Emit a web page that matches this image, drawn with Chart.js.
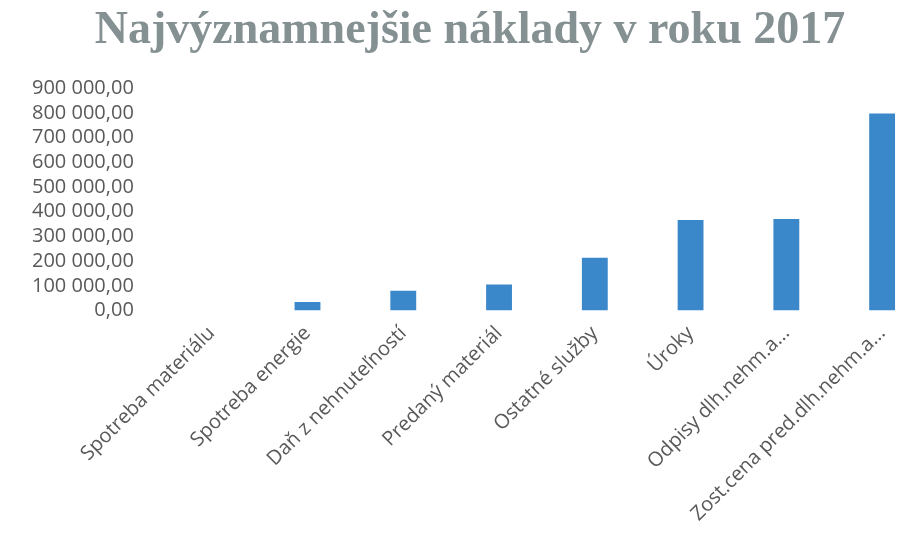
<!DOCTYPE html>
<html>
<head>
<meta charset="utf-8">
<script src="https://cdn.jsdelivr.net/npm/chart.js@4/dist/chart.umd.min.js"></script>
<style>
  body { margin: 0; background: #fff; overflow: hidden; }
</style>
</head>
<body>
<canvas id="chart" width="930" height="539"></canvas>
<script>
// categories and values
const categories = [
  "Spotreba materiálu",
  "Spotreba energie",
  "Daň z nehnuteľností",
  "Predaný materiál",
  "Ostatné služby",
  "Úroky",
  "Odpisy dlh.nehm.a...",
  "Zost.cena pred.dlh.nehm.a..."
];
const costs = [0, 35000, 80000, 105000, 214000, 367000, 371000, 798000];

const yMax = 900000;
const yStep = 100000;

// "900 000,00" style
function formatSk(v) {
  const s = Math.round(v).toString().replace(/\B(?=(\d{3})+(?!\d))/g, " ");
  return s + ",00";
}

const ctx = document.getElementById("chart").getContext("2d");
new Chart(ctx, {
  type: "bar",
  data: {
    labels: categories,
    datasets: [
      {
        label: "Náklady",
        data: costs,
        backgroundColor: "#3a88c9",
        categoryPercentage: 1,
        barPercentage: 0.27,
      },
    ],
  },
  options: {
    responsive: false,
    animation: false,
    layout: { padding: { left: 10, right: 0, top: 4, bottom: 10 } },
    plugins: {
      legend: { display: false },
      tooltip: { enabled: false },
      title: {
        display: true,
        text: "Najvýznamnejšie náklady v roku 2017",
        color: "#859092",
        font: { family: "Liberation Serif", size: 46, weight: "bold" },
        padding: { top: 0, bottom: 29 },
      },
    },
    scales: {
      x: {
        grid: { display: false },
        border: { display: false },
        ticks: {
          color: "#595959",
          font: { family: "Open Sans", size: 20 },
          minRotation: 45,
          maxRotation: 45,
          autoSkip: false,
          padding: 3,
        },
      },
      y: {
        min: 0,
        max: yMax,
        grid: { display: false },
        border: { display: false },
        ticks: {
          stepSize: yStep,
          autoSkip: false,
          color: "#595959",
          font: { family: "Open Sans", size: 20 },
          padding: 22,
          callback: (v) => formatSk(v),
        },
      },
    },
  },
});
</script>
</body>
</html>
